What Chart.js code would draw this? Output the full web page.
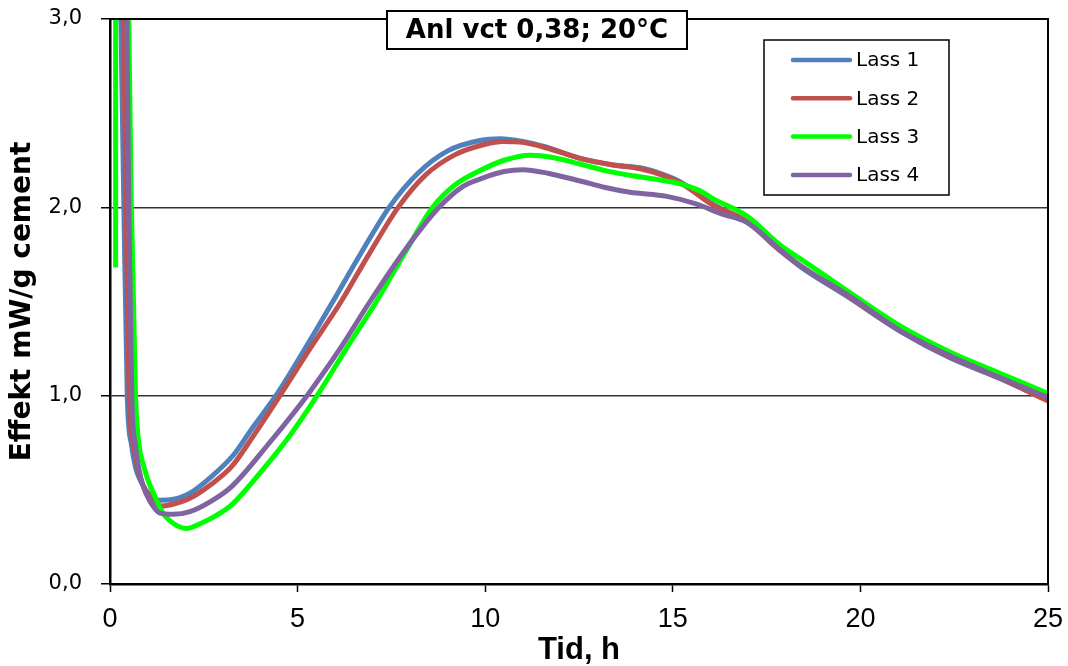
<!DOCTYPE html>
<html>
<head>
<meta charset="utf-8">
<script src="https://cdn.jsdelivr.net/npm/chart.js@4.4.1/dist/chart.umd.min.js"></script>
<style>
  html, body { margin: 0; padding: 0; background: #fff; }
  #wrap { width: 1068px; height: 666px; }
</style>
</head>
<body>
<div id="wrap"><canvas id="c" width="1068" height="666"></canvas></div>
<script>
// ---- data ----
const chartTitle = 'Anl vct 0,38; 20°C';
const xTitle = 'Tid, h';
const yTitle = 'Effekt mW/g cement';
const seriesNames = ['Lass 1', 'Lass 2', 'Lass 3', 'Lass 4'];
const seriesColors = ['#4F81BD', '#C0504D', '#00FF00', '#8064A2'];
const xTickValues = [0, 5, 10, 15, 20, 25];
const xTickLabels = ['0', '5', '10', '15', '20', '25'];
const yTickValues = [0, 1, 2, 3];
const yTickLabels = ['0,0', '1,0', '2,0', '3,0'];

const lass1T = [0.20, 0.29, 0.37, 0.46, 0.58, 0.68, 0.80, 0.95, 1.11, 1.30, 1.60, 2.13, 2.70, 3.29, 3.80, 4.44, 5.20, 5.94, 6.70, 7.44, 8.20, 9.00, 9.86, 10.40, 11.00, 11.64, 12.53, 13.41, 14.13, 14.66, 15.20, 16.08, 16.97, 17.86, 18.40, 19.70, 21.06, 22.40, 23.70, 25.00];
const lass1V = [4.20, 3.00, 2.00, 1.00, 0.73, 0.62, 0.553, 0.50, 0.464, 0.445, 0.447, 0.482, 0.57, 0.685, 0.83, 1.005, 1.25, 1.50, 1.76, 2.00, 2.18, 2.30, 2.355, 2.364, 2.35, 2.32, 2.26, 2.225, 2.21, 2.18, 2.135, 2.015, 1.925, 1.77, 1.685, 1.52, 1.342, 1.20, 1.093, 0.975];

const lass2T = [0.25, 0.36, 0.43, 0.51, 0.63, 0.74, 0.87, 1.02, 1.20, 1.38, 1.70, 2.13, 2.70, 3.24, 3.80, 4.53, 5.30, 6.16, 6.90, 7.68, 8.40, 9.20, 10.00, 10.47, 11.00, 11.64, 12.53, 13.41, 14.13, 14.66, 15.20, 16.08, 16.97, 17.86, 18.40, 19.70, 21.06, 22.40, 23.70, 25.00];
const lass2V = [4.20, 3.00, 2.00, 1.00, 0.73, 0.61, 0.53, 0.475, 0.432, 0.414, 0.425, 0.455, 0.53, 0.623, 0.78, 1.00, 1.24, 1.50, 1.75, 2.00, 2.17, 2.28, 2.335, 2.35, 2.345, 2.315, 2.26, 2.225, 2.205, 2.175, 2.13, 2.01, 1.925, 1.77, 1.69, 1.525, 1.345, 1.205, 1.095, 0.972];

const lass3T = [0.15, 0.151, 0.40, 0.50, 0.57, 0.68, 0.78, 0.88, 1.01, 1.20, 1.40, 1.70, 2.04, 2.40, 2.80, 3.24, 4.00, 4.80, 5.52, 6.30, 7.10, 7.85, 8.60, 9.20, 9.86, 10.50, 11.20, 11.80, 12.53, 13.20, 13.86, 14.50, 15.20, 15.70, 16.08, 16.97, 17.86, 18.40, 19.70, 21.06, 22.40, 23.70, 25.00];
const lass3V = [1.68, 4.50, 4.50, 3.00, 2.00, 1.00, 0.73, 0.64, 0.553, 0.464, 0.38, 0.32, 0.295, 0.32, 0.36, 0.42, 0.59, 0.79, 1.00, 1.25, 1.50, 1.755, 2.00, 2.12, 2.195, 2.25, 2.277, 2.265, 2.23, 2.195, 2.17, 2.15, 2.125, 2.09, 2.045, 1.955, 1.80, 1.726, 1.55, 1.37, 1.23, 1.12, 1.012];

const lass4T = [0.35, 0.45, 0.50, 0.58, 0.68, 0.78, 0.90, 1.05, 1.20, 1.33, 1.70, 2.13, 2.70, 3.24, 4.25, 5.25, 6.10, 6.93, 7.85, 8.77, 9.40, 9.86, 10.50, 11.00, 11.70, 12.53, 13.20, 13.86, 14.84, 15.64, 16.30, 16.97, 17.86, 18.40, 19.70, 21.06, 22.40, 23.70, 25.00];
const lass4V = [4.20, 3.00, 2.00, 1.00, 0.73, 0.60, 0.51, 0.445, 0.40, 0.376, 0.37, 0.384, 0.44, 0.517, 0.75, 1.00, 1.24, 1.50, 1.77, 2.00, 2.11, 2.15, 2.19, 2.20, 2.18, 2.14, 2.105, 2.08, 2.058, 2.017, 1.965, 1.92, 1.775, 1.69, 1.53, 1.345, 1.21, 1.098, 0.99];

const seriesT = [lass1T, lass2T, lass3T, lass4T];
const seriesV = [lass1V, lass2V, lass3V, lass4V];

// ---- plugins ----
const framePlugin = {
  id: 'frame',
  afterDatasetsDraw(chart) {
    const { ctx, chartArea: a } = chart;
    ctx.save();
    ctx.strokeStyle = '#000';
    ctx.lineWidth = 2;
    ctx.beginPath();
    ctx.moveTo(a.left, a.top);
    ctx.lineTo(a.right, a.top);
    ctx.lineTo(a.right, a.bottom);
    ctx.stroke();
    ctx.restore();
  }
};

const boxesPlugin = {
  id: 'boxes',
  afterDraw(chart) {
    const { ctx, chartArea: a } = chart;
    ctx.save();
    // title box
    const tx = a.left + 277, ty = 11, tw = 300, th = 38;
    ctx.fillStyle = '#fff';
    ctx.fillRect(tx, ty, tw, th);
    ctx.strokeStyle = '#000';
    ctx.lineWidth = 2;
    ctx.strokeRect(tx, ty, tw, th);
    ctx.fillStyle = '#000';
    ctx.font = 'bold 26px "DejaVu Sans", sans-serif';
    ctx.textAlign = 'center';
    ctx.textBaseline = 'middle';
    ctx.fillText(chartTitle, tx + tw / 2, ty + th / 2 + 1);

    // legend box
    const lx = a.right - 284, ly = a.top + 21, lw = 185, lh = 155;
    ctx.fillStyle = '#fff';
    ctx.fillRect(lx, ly, lw, lh);
    ctx.strokeStyle = '#000';
    ctx.lineWidth = 1.5;
    ctx.strokeRect(lx, ly, lw, lh);
    ctx.font = '20px "DejaVu Sans", sans-serif';
    ctx.textAlign = 'left';
    chart.data.datasets.forEach((ds, i) => {
      const y = ly + 20 + i * 38.3;
      ctx.strokeStyle = ds.borderColor;
      ctx.lineWidth = 4.5;
      ctx.lineCap = 'round';
      ctx.beginPath();
      ctx.moveTo(lx + 29, y);
      ctx.lineTo(lx + 86, y);
      ctx.stroke();
      ctx.fillStyle = '#000';
      ctx.fillText(ds.label, lx + 92, y + 1);
    });
    ctx.restore();
  }
};

// ---- chart ----
const datasets = seriesNames.map((name, i) => ({
  label: name,
  data: seriesT[i].map((t, k) => ({ x: t, y: seriesV[i][k] })),
  borderColor: seriesColors[i],
  backgroundColor: seriesColors[i],
  borderWidth: 5,
  pointRadius: 0,
  fill: false,
  cubicInterpolationMode: 'monotone',
  clip: 0,
  order: seriesNames.length - i
}));

new Chart(document.getElementById('c'), {
  type: 'line',
  data: { datasets },
  options: {
    responsive: false,
    animation: false,
    devicePixelRatio: 1,
    layout: { padding: { top: 19, right: 20, left: 0, bottom: 0 } },
    plugins: {
      legend: { display: false },
      tooltip: { enabled: false },
      title: { display: false }
    },
    scales: {
      x: {
        type: 'linear',
        min: 0, max: 25,
        afterFit(scale) {
          scale.height = 82;
          scale.paddingLeft = 0; scale.paddingRight = 0;
          scale.paddingTop = 0; scale.paddingBottom = 0;
        },
        afterBuildTicks(scale) { scale.ticks = xTickValues.map(v => ({ value: v })); },
        ticks: {
          callback: (v) => xTickLabels[xTickValues.indexOf(v)],
          color: '#000',
          padding: 11,
          maxRotation: 0,
          autoSkip: false,
          font: { family: '"Liberation Sans Narrow", "Liberation Sans", sans-serif', size: 27 }
        },
        grid: { drawOnChartArea: false, drawTicks: true, tickLength: 8, tickColor: '#000', tickWidth: 1.5 },
        border: { display: true, color: '#000', width: 2.5 },
        title: {
          display: true, text: xTitle, color: '#000',
          padding: { top: 0, bottom: 0 },
          font: { family: '"Liberation Sans", Arial, sans-serif', size: 31, weight: 'bold', lineHeight: 1 }
        }
      },
      y: {
        type: 'linear',
        min: 0, max: 3,
        afterFit(scale) {
          scale.width = 110;
          scale.paddingLeft = 0; scale.paddingRight = 0;
          scale.paddingTop = 0; scale.paddingBottom = 0;
        },
        afterBuildTicks(scale) { scale.ticks = yTickValues.map(v => ({ value: v })); },
        ticks: {
          callback: (v) => yTickLabels[yTickValues.indexOf(v)],
          color: '#000',
          padding: 19,
          autoSkip: false,
          font: { family: '"DejaVu Sans", sans-serif', size: 21 }
        },
        grid: {
          drawOnChartArea: true, drawTicks: true, tickLength: 9,
          color: '#333', lineWidth: 1.5, tickColor: '#000', tickWidth: 1.5
        },
        border: { display: true, color: '#000', width: 2.5 },
        title: {
          display: true, text: yTitle, color: '#000',
          padding: { top: 6, bottom: 0 },
          font: { family: '"DejaVu Sans", sans-serif', size: 28, weight: 'bold' }
        }
      }
    }
  },
  plugins: [framePlugin, boxesPlugin]
});
</script>
</body>
</html>
